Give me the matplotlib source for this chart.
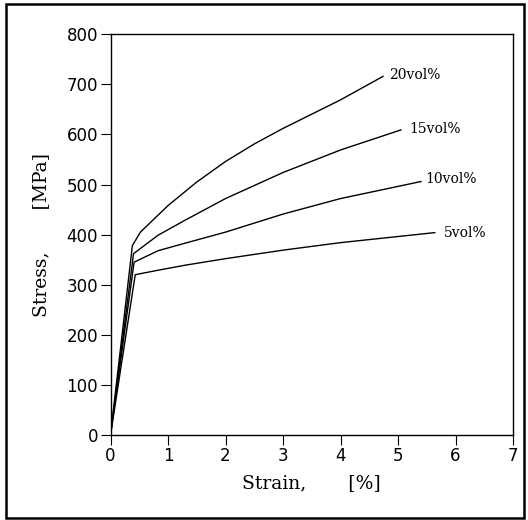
import matplotlib.pyplot as plt
from matplotlib.patches import Rectangle

# stress-strain curves, strain in %, stress in MPa
strain_20 = [0, 0.38, 0.52, 1.0, 1.5, 2.0, 2.5, 3.0, 4.0, 4.74]
stress_20 = [0, 378, 405, 458, 505, 546, 581, 612, 669, 716]

strain_15 = [0, 0.40, 0.83, 1.3, 2.0, 3.0, 4.0, 5.05]
stress_15 = [0, 362, 399, 429, 472, 524, 569, 609]

strain_10 = [0, 0.41, 0.83, 1.3, 2.0, 3.0, 4.0, 5.40]
stress_10 = [0, 345, 368, 383, 405, 441, 472, 506]

strain_5 = [0, 0.43, 0.83, 1.3, 2.0, 3.0, 4.0, 5.64]
stress_5 = [0, 320, 329, 339, 352, 369, 384, 404]

labels = ['20vol%', '15vol%', '10vol%', '5vol%']
label_x = [4.84, 5.19, 5.47, 5.80]
label_y = [718, 610, 511, 403]

fig = plt.figure(figsize=(5.28, 5.20), dpi=100)
ax = fig.add_axes([0.2093, 0.1635, 0.7623, 0.7706])

for sx, sy in [(strain_20, stress_20), (strain_15, stress_15),
               (strain_10, stress_10), (strain_5, stress_5)]:
    ax.plot(sx, sy, color='black', linewidth=1.0)

for lab, lx, ly in zip(labels, label_x, label_y):
    ax.text(lx, ly, lab, fontsize=10, family='DejaVu Serif',
            va='center', ha='left')

ax.set_xlim(0, 7)
ax.set_ylim(0, 800)
ax.set_xticks(range(0, 8))
ax.set_yticks(range(0, 801, 100))
ax.tick_params(direction='out', length=7, width=0.8, labelsize=12, pad=2)
for s in ax.spines.values():
    s.set_linewidth(1.0)

ax.set_xlabel('Strain,       [%]', fontsize=13.5, family='DejaVu Serif', labelpad=6)
ax.set_ylabel('Stress,       [MPa]', fontsize=13.5, family='DejaVu Serif', labelpad=12)

# border around the whole figure
fig.patches.append(Rectangle((0.011, 0.004), 0.981, 0.988, transform=fig.transFigure,
                             fill=False, edgecolor='black', linewidth=1.8))

fig.savefig('out.png', dpi=100)
